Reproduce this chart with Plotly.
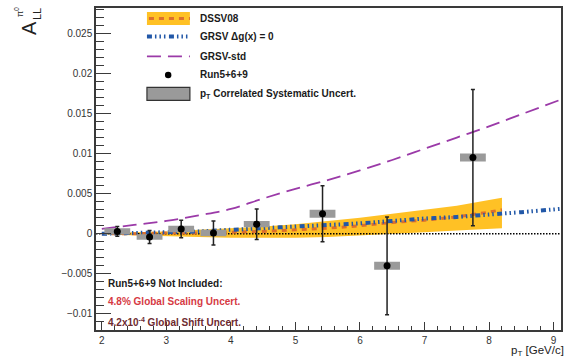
import plotly.graph_objects as go

# ---------------- data ----------------
pt = [2.24, 2.74, 3.23, 3.73, 4.40, 5.42, 6.42, 7.75]
all_val = [0.0003, -0.0004, 0.0006, 0.0001, 0.0012, 0.0025, -0.0040, 0.0095]
stat_err = [0.0006, 0.0008, 0.0011, 0.0015, 0.0019, 0.0035, 0.0061, 0.0085]
sys_err = [0.0004, 0.00035, 0.0004, 0.0004, 0.0004, 0.0005, 0.0005, 0.0005]

grsv_std_x = [2.0, 2.5, 3.0, 3.5, 4.0, 4.5, 5.0, 5.5, 6.0, 6.5, 7.0, 7.5, 8.0, 8.5, 9.1]
grsv_std_y = [0.0006, 0.0011, 0.0016, 0.0023, 0.0031, 0.0044, 0.0056, 0.0067, 0.0079,
              0.0092, 0.0106, 0.0120, 0.0134, 0.0149, 0.0167]

grsv0_x = [2.0, 2.5, 3.0, 3.5, 4.0, 4.5, 5.0, 5.5, 6.0, 6.5, 7.0, 7.5, 8.0, 8.5, 9.1]
grsv0_y = [0.0000, 0.0001, 0.0002, 0.0003, 0.0005, 0.0007, 0.0009, 0.0011, 0.0013,
           0.0016, 0.0019, 0.0021, 0.0024, 0.0027, 0.0031]

dssv_x = [2.0, 2.5, 3.0, 3.5, 4.0, 4.5, 5.0, 5.5, 6.0, 6.5, 7.0, 7.5, 8.0, 8.2]
dssv_y = [0.0000, 0.0000, 0.0001, 0.0001, 0.0002, 0.0003, 0.0005, 0.0007, 0.0010,
          0.0014, 0.0017, 0.0021, 0.0027, 0.0030]
dssv_hi = [0.0001, 0.0002, 0.0003, 0.0005, 0.0007, 0.0009, 0.0012, 0.0016, 0.0020,
           0.0025, 0.0030, 0.0035, 0.0042, 0.0045]
dssv_lo = [-0.0001, -0.0002, -0.0003, -0.0004, -0.0005, -0.0005, -0.0005, -0.0004, -0.0002,
           0.0000, 0.0002, 0.0004, 0.0006, 0.0007]

x_range = [1.91, 9.115]
y_range = [-0.0120, 0.02816]
box_half_width = 0.2

# ---------------- styling ----------------
W, H = 568, 358
ML, MR, MT, MB = 96, 6.5, 8, 27.5
PW = W - ML - MR
PH = H - MT - MB

YELLOW = "#ffc125"
ORANGE = "#dd6f2c"
BLUE = "#2258a8"
PURPLE = "#9b3aa8"
GRAY = "#9a9a9a"
FRAME = "#3a3a3a"
FONT = "Liberation Sans, Arial, sans-serif"
BLUE_DASH = "5px,3px,1.5px,3px,1.5px,3px,1.5px,3.5px"


def px(x):
    return (x - ML) / PW


def py(y):
    return (H - MB - y) / PH


fig = go.Figure()

# DSSV08 band
fig.add_trace(go.Scatter(
    x=dssv_x + dssv_x[::-1], y=dssv_hi + dssv_lo[::-1],
    fill="toself", fillcolor=YELLOW, line=dict(width=0), mode="lines",
    hoverinfo="skip", showlegend=False))

# zero line
fig.add_trace(go.Scatter(
    x=x_range, y=[0, 0], mode="lines",
    line=dict(color="black", width=1.5, dash="1.5px,1.5px"),
    hoverinfo="skip", showlegend=False))

# DSSV08 central
fig.add_trace(go.Scatter(
    x=dssv_x, y=dssv_y, mode="lines",
    line=dict(color=ORANGE, width=3, dash="5px,5px"), showlegend=False))

# GRSV dg=0
fig.add_trace(go.Scatter(
    x=grsv0_x, y=grsv0_y, mode="lines", line_shape="spline",
    line=dict(color=BLUE, width=4, dash=BLUE_DASH), showlegend=False))

# GRSV-std
fig.add_trace(go.Scatter(
    x=grsv_std_x, y=grsv_std_y, mode="lines", line_shape="spline",
    line=dict(color=PURPLE, width=1.8, dash="14px,7px"), showlegend=False))

# systematic boxes
bx, by = [], []
for x, y, s in zip(pt, all_val, sys_err):
    bx += [x - box_half_width, x + box_half_width, x + box_half_width, x - box_half_width, x - box_half_width, None]
    by += [y - s, y - s, y + s, y + s, y - s, None]
fig.add_trace(go.Scatter(
    x=bx, y=by, fill="toself", fillcolor=GRAY, mode="lines",
    line=dict(width=0, color=GRAY), hoverinfo="skip", showlegend=False))

# data points
fig.add_trace(go.Scatter(
    x=pt, y=all_val, mode="markers",
    marker=dict(color="black", size=7),
    error_y=dict(type="data", array=stat_err, color="#222222", thickness=1.5, width=2),
    showlegend=False))

# ---------------- legend (manual) ----------------
shapes = []
annotations = []
lx0, lx1 = 147, 190
# row 1
shapes.append(dict(type="rect", xref="paper", yref="paper", x0=px(lx0), x1=px(lx1),
                   y0=py(25), y1=py(12), fillcolor=YELLOW, line=dict(width=0), layer="above"))
shapes.append(dict(type="line", xref="paper", yref="paper", x0=px(lx0 + 2), x1=px(lx1),
                   y0=py(18.5), y1=py(18.5), line=dict(color=ORANGE, width=3, dash="5px,5px"), layer="above"))
# row 2
shapes.append(dict(type="line", xref="paper", yref="paper", x0=px(lx0), x1=px(lx1 - 2),
                   y0=py(36.5), y1=py(36.5), line=dict(color=BLUE, width=4, dash=BLUE_DASH), layer="above"))
# row 3
shapes.append(dict(type="line", xref="paper", yref="paper", x0=px(lx0), x1=px(lx1),
                   y0=py(56.5), y1=py(56.5), line=dict(color=PURPLE, width=1.8, dash="14px,7px"), layer="above"))
# row 4
shapes.append(dict(type="circle", xref="paper", yref="paper", x0=px(165), x1=px(171.5),
                   y0=py(78.3), y1=py(71.8), fillcolor="black", line=dict(width=0), layer="above"))
# row 5
shapes.append(dict(type="rect", xref="paper", yref="paper", x0=px(lx0), x1=px(lx1),
                   y0=py(100.5), y1=py(87.5), fillcolor=GRAY, line=dict(color="#333333", width=1.2), layer="above"))

leg_texts = ["DSSV08", "GRSV \u0394g(x) = 0", "GRSV-std", "Run5+6+9",
             "p<sub>T</sub> Correlated Systematic Uncert."]
leg_y = [18.5, 36.5, 56.5, 75, 94]
for t, yy in zip(leg_texts, leg_y):
    annotations.append(dict(xref="paper", yref="paper", x=px(198), y=py(yy), text="<b>" + t + "</b>",
                            showarrow=False, xanchor="left", yanchor="middle",
                            font=dict(family=FONT, size=10, color="#1a1a1a")))

# bottom-left notes
notes = [("Run5+6+9 Not Included:", "#1a1a1a", 284),
         ("4.8% Global Scaling Uncert.", "#d63a44", 301.5),
         ("4.2x10<sup>-4</sup> Global Shift Uncert.", "#6e2b30", 322)]
for t, c, yy in notes:
    annotations.append(dict(xref="paper", yref="paper", x=px(106), y=py(yy), text="<b>" + t + "</b>",
                            showarrow=False, xanchor="left", yanchor="middle",
                            font=dict(family=FONT, size=10, color=c)))

# axis titles
annotations.append(dict(xref="paper", yref="paper", x=px(566.5), y=py(351.5), text="p<sub>T</sub> [GeV/c]",
                        showarrow=False, xanchor="right", yanchor="middle",
                        font=dict(family=FONT, size=11.5, color="#222222")))
annotations.append(dict(xref="paper", yref="paper", x=px(29), y=py(28), text="A", textangle=-90,
                        showarrow=False, xanchor="center", yanchor="middle",
                        font=dict(family=FONT, size=20, color="#222222")))
annotations.append(dict(xref="paper", yref="paper", x=px(37), y=py(14), text="LL", textangle=-90,
                        showarrow=False, xanchor="center", yanchor="middle",
                        font=dict(family=FONT, size=11, color="#222222")))
annotations.append(dict(xref="paper", yref="paper", x=px(19.5), y=py(12.5), text="\u03c0<sup>0</sup>",
                        textangle=-90, showarrow=False, xanchor="center", yanchor="middle",
                        font=dict(family=FONT, size=9, color="#222222")))

fig.update_layout(
    width=W, height=H,
    margin=dict(l=ML, r=MR, t=MT, b=MB, pad=0),
    paper_bgcolor="white", plot_bgcolor="white",
    shapes=shapes, annotations=annotations,
    showlegend=False,
    xaxis=dict(range=x_range, showgrid=False, zeroline=False, showline=True, linecolor=FRAME,
               linewidth=1.5, mirror=True, ticks="inside", ticklen=8, tickwidth=1, tickcolor=FRAME,
               dtick=1, tick0=0, tickfont=dict(family=FONT, size=10, color="#333333"),
               minor=dict(ticks="inside", ticklen=4, dtick=0.2, tick0=0, tickcolor=FRAME, showgrid=False)),
    yaxis=dict(range=y_range, showgrid=False, zeroline=False, showline=True, linecolor=FRAME,
               linewidth=1.5, mirror=True, ticks="inside", ticklen=15, tickwidth=1, tickcolor=FRAME,
               dtick=0.005, tick0=0, tickformat="~g", tickfont=dict(family=FONT, size=10, color="#333333"),
               minor=dict(ticks="inside", ticklen=8, dtick=0.001, tick0=0, tickcolor=FRAME, showgrid=False)),
)

fig.write_html("out.html", config={"displayModeBar": False},
               post_script="document.body.style.margin='0';")
